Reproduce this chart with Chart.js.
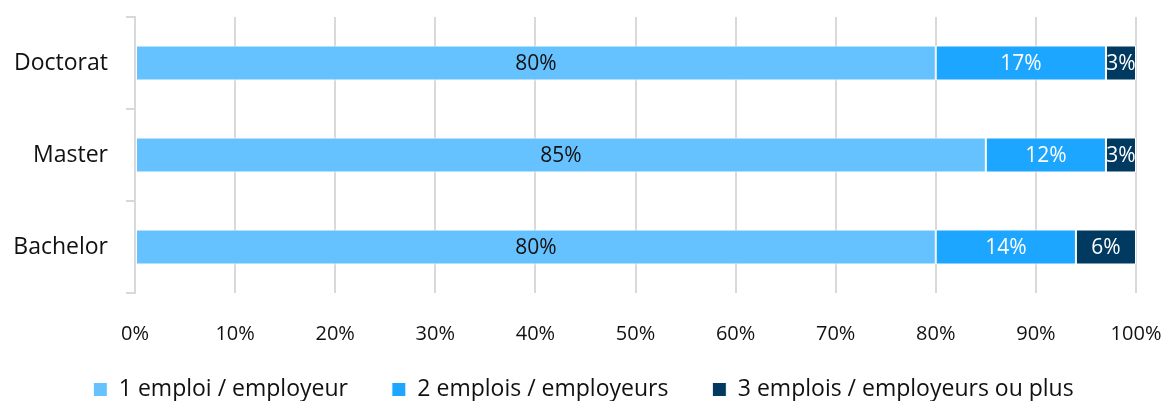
<!DOCTYPE html>
<html>
<head>
<meta charset="utf-8">
<script src="https://cdn.jsdelivr.net/npm/chart.js@4"></script>
<style>
  html, body { margin: 0; padding: 0; background: #fff; }
  #wrap { width: 1167px; height: 401px; position: relative; }
</style>
</head>
<body>
<div id="wrap"><canvas id="chart"></canvas></div>
<script>
// --- données ---
const categories = ["Doctorat", "Master", "Bachelor"];
const seriesNames = ["1 emploi / employeur", "2 emplois / employeurs", "3 emplois / employeurs ou plus"];
const oneJob = [80, 85, 80];
const twoJobs = [17, 12, 14];
const threeJobs = [3, 3, 6];
const xTicks = [0, 10, 20, 30, 40, 50, 60, 70, 80, 90, 100];

const colors = ["#66c2ff", "#1ca6ff", "#003a61"];
const labelColors = ["#111111", "#ffffff", "#ffffff"];
const FONT = "'Open Sans', sans-serif";

// --- étiquettes au centre des barres ---
const barLabels = {
  id: "barLabels",
  afterDatasetsDraw(chart) {
    const ctx = chart.ctx;
    ctx.save();
    ctx.font = "21px " + FONT;
    ctx.textAlign = "center";
    ctx.textBaseline = "middle";
    chart.data.datasets.forEach((ds, i) => {
      chart.getDatasetMeta(i).data.forEach((bar, j) => {
        const cx = (bar.x + bar.base) / 2;
        ctx.fillStyle = labelColors[i];
        ctx.fillText(ds.data[j] + "%", cx, bar.y + 1);
      });
    });
    ctx.restore();
  }
};

const data = [oneJob, twoJobs, threeJobs];

new Chart(document.getElementById("chart"), {
  type: "bar",
  data: {
    labels: categories,
    datasets: seriesNames.map((name, i) => ({
      label: name,
      data: data[i],
      backgroundColor: colors[i],
      borderColor: "#ffffff",
      borderWidth: 1,
      borderSkipped: false,
      categoryPercentage: 1,
      barPercentage: 0.38
    }))
  },
  options: {
    indexAxis: "y",
    responsive: true,
    maintainAspectRatio: false,
    animation: false,
    layout: { padding: { top: 17, right: 0, left: 0, bottom: 0 } },
    plugins: {
      tooltip: { enabled: false },
      legend: {
        position: "bottom",
        maxHeight: 55,
        labels: {
          color: "#111111",
          font: { family: FONT, size: 23 },
          boxWidth: 14,
          boxHeight: 14,
          padding: 32,
          // un peu plus d'espace entre les entrées
          generateLabels(chart) {
            const items = Chart.defaults.plugins.legend.labels.generateLabels(chart);
            items.forEach((it, i) => { if (i < items.length - 1) it.text += "  "; });
            return items;
          }
        }
      }
    },
    scales: {
      x: {
        stacked: true,
        min: 0,
        max: 100,
        afterBuildTicks(axis) { axis.ticks = xTicks.map(v => ({ value: v })); },
        afterFit(axis) { axis.height = 53; axis.paddingRight = 31; axis.paddingLeft = 0; },
        grid: { color: "#d9d9d9", lineWidth: 2, drawTicks: false },
        border: { display: false },
        ticks: {
          color: "#111111",
          font: { family: FONT, size: 20 },
          padding: 29,
          maxRotation: 0,
          callback: v => v + "%"
        }
      },
      y: {
        stacked: true,
        afterFit(axis) { axis.width = 135; axis.paddingTop = 0; axis.paddingBottom = 0; },
        grid: { offset: true, drawOnChartArea: false, color: "#d9d9d9", lineWidth: 2, tickLength: 9 },
        border: { display: true, color: "#d9d9d9", width: 2 },
        ticks: {
          color: "#111111",
          font: { family: FONT, size: 23 },
          padding: 18
        }
      }
    }
  },
  plugins: [barLabels]
});
</script>
</body>
</html>
